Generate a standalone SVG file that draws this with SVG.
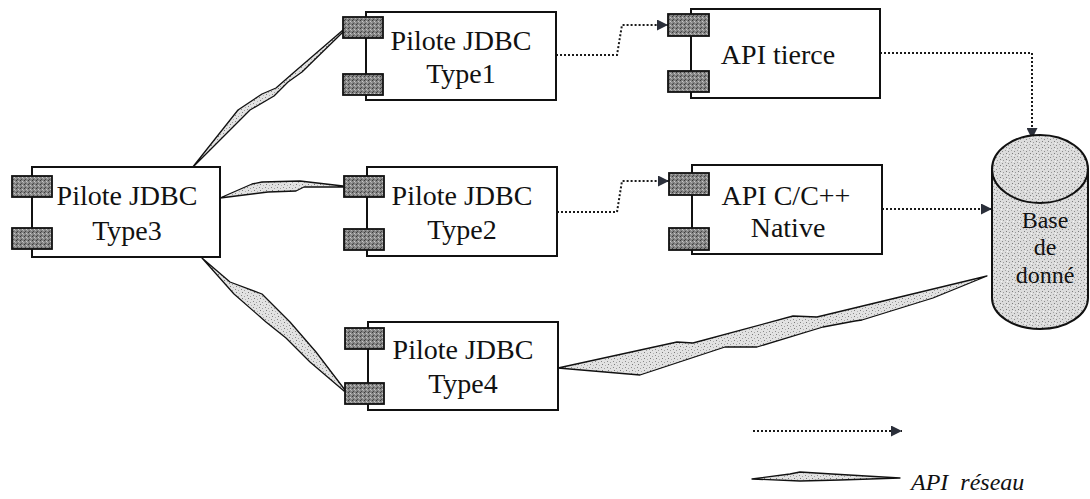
<svg xmlns="http://www.w3.org/2000/svg" width="1090" height="499" viewBox="0 0 1090 499">
<style>
.box{fill:#fff;stroke:#111;stroke-width:2}
.port{fill:url(#portfill);stroke:#111;stroke-width:1.8}
.t{font-size:28px;fill:#111;text-anchor:middle}
.db{font-size:24px;fill:#111;text-anchor:middle}
.dot{fill:none;stroke:#1a1a1a;stroke-width:2;stroke-dasharray:2 2}
.bolt{fill:url(#stip);stroke:#111;stroke-width:1.3;stroke-linejoin:round}
.leg{font-size:24px;font-style:italic;fill:#111;white-space:pre}
</style>
<defs>
<pattern id="stip" width="6" height="6" patternUnits="userSpaceOnUse">
<rect width="6" height="6" fill="#e2e2e2"/>
<rect x="1" y="1" width="1" height="1" fill="#8a8a8a"/>
<rect x="4" y="2" width="1" height="1" fill="#a0a0a0"/>
<rect x="2" y="4" width="1" height="1" fill="#7a7a7a"/>
<rect x="5" y="5" width="1" height="1" fill="#b0b0b0"/>
</pattern>
<pattern id="dbfill" width="6" height="6" patternUnits="userSpaceOnUse">
<rect width="6" height="6" fill="#dcdcdc"/>
<rect x="0" y="1" width="1" height="1" fill="#8a8a8a"/>
<rect x="3" y="0" width="1" height="1" fill="#a5a5a5"/>
<rect x="4" y="3" width="1" height="1" fill="#7c7c7c"/>
<rect x="1" y="4" width="1" height="1" fill="#9a9a9a"/>
<rect x="5" y="5" width="1" height="1" fill="#f5f5f5"/>
</pattern>
<pattern id="portfill" width="4" height="4" patternUnits="userSpaceOnUse">
<rect width="4" height="4" fill="#858585"/>
<rect x="0" y="0" width="1" height="1" fill="#3a3a3a"/>
<rect x="2" y="1" width="1" height="1" fill="#c8c8c8"/>
<rect x="1" y="3" width="1" height="1" fill="#4a4a4a"/>
<rect x="3" y="2" width="1" height="1" fill="#b0b0b0"/>
</pattern>
<marker id="arr" markerUnits="userSpaceOnUse" markerWidth="12" markerHeight="11" refX="11" refY="5.5" orient="auto">
<path d="M0,0 L11,5.5 L0,11 z" fill="#2b2f3a"/>
</marker>
</defs>

<g id="connectors">
<path class="dot" d="M556,55 H617 L622,25 H668" marker-end="url(#arr)"/>
<path class="dot" d="M557,212 H617 L622,181 H669" marker-end="url(#arr)"/>
<path class="dot" d="M880,53 H1032 V139" marker-end="url(#arr)"/>
<path class="dot" d="M882,209 H992" marker-end="url(#arr)"/>
<polygon class="bolt" points="192,168 238,110 262,94 276,88 292,74 343,30 343,32 302,72 288,82 274,96 250,110 232,128"/>
<polygon class="bolt" points="220,198 252,184 262,182 300,181 343,186 343,187 304,187 296,191 268,192"/>
<polygon class="bolt" points="202,258 230,282 262,294 290,322 316,352 345,390 344,391 310,362 286,338 266,322 234,294"/>
<polygon class="bolt" points="558,368 677,342 693,343 793,316 817,317 987,276 933,298 862,320 855,321 823,327 757,347 725,347 640,375"/>
</g>

<g font-family="Liberation Serif, Times New Roman, DejaVu Serif, serif">
<g id="type3">
<rect class="box" x="32" y="167" width="188" height="90"/>
<rect class="port" x="12" y="176" width="40" height="21"/>
<rect class="port" x="12" y="228" width="40" height="21"/>
<text class="t" x="127" y="205">Pilote JDBC</text>
<text class="t" x="127" y="240">Type3</text>
</g>

<g id="type1">
<rect class="box" x="366" y="12" width="190" height="88"/>
<rect class="port" x="343" y="17" width="40" height="21"/>
<rect class="port" x="343" y="74" width="40" height="21"/>
<text class="t" x="461" y="50">Pilote JDBC</text>
<text class="t" x="461" y="83">Type1</text>
</g>

<g id="type2">
<rect class="box" x="367" y="167" width="190" height="89"/>
<rect class="port" x="344" y="176" width="40" height="21"/>
<rect class="port" x="344" y="229" width="40" height="21"/>
<text class="t" x="462" y="205">Pilote JDBC</text>
<text class="t" x="462" y="239">Type2</text>
</g>

<g id="type4">
<rect class="box" x="368" y="322" width="190" height="88"/>
<rect class="port" x="345" y="328" width="39" height="21"/>
<rect class="port" x="345" y="383" width="39" height="21"/>
<text class="t" x="463" y="359">Pilote JDBC</text>
<text class="t" x="463" y="393">Type4</text>
</g>

<g id="api-tierce">
<rect class="box" x="691" y="9" width="189" height="89"/>
<rect class="port" x="668" y="14" width="41" height="22"/>
<rect class="port" x="668" y="71" width="41" height="21"/>
<text class="t" x="778" y="64">API tierce</text>
</g>

<g id="api-native">
<rect class="box" x="692" y="165" width="190" height="89"/>
<rect class="port" x="669" y="173" width="40" height="22"/>
<rect class="port" x="669" y="228" width="40" height="22"/>
<text class="t" x="786" y="205">API C/C++</text>
<text class="t" x="788" y="237">Native</text>
</g>

<g id="database">
<path d="M992,169 V298 A48,31 0 0 0 1088,298 V169 Z" fill="url(#dbfill)" stroke="#111" stroke-width="2"/>
<ellipse cx="1040" cy="169" rx="48" ry="34" fill="url(#dbfill)" stroke="#111" stroke-width="2"/>
<text class="db" x="1045" y="228">Base</text>
<text class="db" x="1045" y="255">de</text>
<text class="db" x="1045" y="283">donné</text>
</g>

<g id="legend">
<path class="dot" d="M753,431 H902" marker-end="url(#arr)"/>
<polygon class="bolt" points="752,479 790,474 800,472 832,474 900,478 840,480 800,481"/>
<text class="leg" x="911" y="490">API  réseau</text>
</g>
</g>
</svg>
